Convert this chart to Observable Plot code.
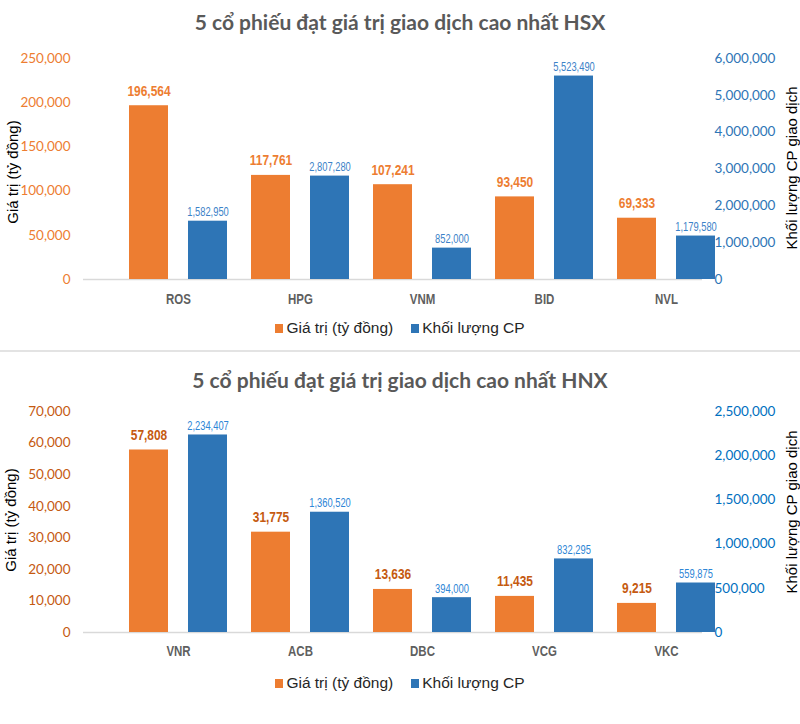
<!DOCTYPE html>
<html>
<head>
<meta charset="utf-8">
<script src="https://cdn.jsdelivr.net/npm/d3@7"></script>
<script src="https://cdn.jsdelivr.net/npm/@observablehq/plot@0.6"></script>
<style>
  body { margin: 0; background: #fff; }
  #root { position: relative; width: 800px; height: 724px; overflow: hidden; background: #fff; }
  .title { position: absolute; left: 0; width: 800px; text-align: center; font: bold 21px Lato, "Open Sans", sans-serif; color: #595959; line-height: 26px; }
  .layer { position: absolute; left: 0; }
  .ytitle { position: absolute; font: 15px "Liberation Sans", Arial, sans-serif; color: #000; white-space: nowrap; transform: translate(-50%, -50%) rotate(-90deg); }
  .legend { position: absolute; left: 0; width: 800px; display: flex; justify-content: center; align-items: center; gap: 18px; font: 15.5px "Liberation Sans", Arial, sans-serif; color: #262626; height: 18px; }
  .legend span.sw { display: inline-block; width: 8px; height: 9px; margin-right: 3px; }
  .legend .item { display: flex; align-items: center; }
  .sep { position: absolute; left: 0; top: 350px; width: 800px; height: 2px; background: #e3e3e3; }
</style>
</head>
<body>
<div id="root"></div>
<script>
// ---- Data ----
const hsxTitle = "5 cổ phiếu đạt giá trị giao dịch cao nhất HSX";
const hsxCats = ["ROS", "HPG", "VNM", "BID", "NVL"];
const hsxValue = [196564, 117761, 107241, 93450, 69333];
const hsxVolume = [1582950, 2807280, 852000, 5523490, 1179580];
const hsxLeftTicks = [0, 50000, 100000, 150000, 200000, 250000];
const hsxRightTicks = [0, 1000000, 2000000, 3000000, 4000000, 5000000, 6000000];

const hnxTitle = "5 cổ phiếu đạt giá trị giao dịch cao nhất HNX";
const hnxCats = ["VNR", "ACB", "DBC", "VCG", "VKC"];
const hnxValue = [57808, 31775, 13636, 11435, 9215];
const hnxVolume = [2234407, 1360520, 394000, 832295, 559875];
const hnxLeftTicks = [0, 10000, 20000, 30000, 40000, 50000, 60000, 70000];
const hnxRightTicks = [0, 500000, 1000000, 1500000, 2000000, 2500000];

const seriesNames = ["Giá trị (tỷ đồng)", "Khối lượng CP"];
const leftAxisTitle = "Giá trị (tỷ đồng)";
const rightAxisTitle = "Khối lượng CP giao dịch";

// ---- Styles ----
const ORANGE = "#ED7D31";
const BLUE = "#2E75B6";
const SANS = "'Liberation Sans', Arial, sans-serif";
const TICKFONT = "Lato, 'Open Sans', sans-serif";
const fmt = d3.format(",");
const root = document.getElementById("root");

function addDiv(cls, styles, html) {
  const d = document.createElement("div");
  d.className = cls;
  Object.assign(d.style, styles);
  if (html !== undefined) d.innerHTML = html;
  root.appendChild(d);
  return d;
}

// horizontally condense texts of marks (to imitate a narrow typeface)
function condense(svg, label, k) {
  svg.querySelectorAll(`g[aria-label="${label}"] text`).forEach(t => {
    let tr = t.getAttribute("transform");
    if (!tr) {
      const x = +(t.getAttribute("x") || 0), y = +(t.getAttribute("y") || 0);
      t.removeAttribute("x"); t.removeAttribute("y");
      tr = `translate(${x},${y})`;
    }
    t.setAttribute("transform", tr + ` scale(${k},1)`);
  });
}

function chart(cfg) {
  const rows = cfg.cats.map((c, i) => ({cat: c, value: cfg.value[i], volume: cfg.volume[i]}));
  const W = 800, H = cfg.height;
  const common = {
    width: W, height: H,
    marginLeft: 83, marginRight: 98, marginTop: cfg.marginTop, marginBottom: H - cfg.marginTop - cfg.plotH,
    style: {background: "transparent", overflow: "visible"}
  };
  const xScale = {domain: cfg.cats, range: [103, 740], padding: 0.2};

  const base = Plot.plot({
    ...common,
    x: {...xScale, axis: null},
    y: {domain: [0, cfg.leftTicks[cfg.leftTicks.length - 1]], axis: null},
    marks: [
      Plot.axisY({ticks: cfg.leftTicks, tickSize: 0, tickPadding: 13, tickFormat: fmt, label: null,
        fill: cfg.leftTickColor, fontSize: 13.5, fontFamily: TICKFONT}),
      Plot.axisX({tickSize: 0, tickPadding: cfg.xPad, label: null, fill: "#5f5f5f", fontSize: 14,
        fontWeight: "bold", fontFamily: SANS}),
      Plot.ruleY([0], {stroke: "#d9d9d9", strokeWidth: 1.5}),
      Plot.barY(rows, {x: "cat", y: "value", fill: ORANGE, insetRight: 59}),
      Plot.text(rows, {x: "cat", y: "value", text: d => fmt(d.value), dx: -29.5, dy: -15,
        fill: cfg.valueLabelColor, fontWeight: "bold", fontSize: 15.5, fontFamily: SANS})
    ]
  });
  condense(base, "text", 0.77);
  condense(base, "x-axis tick label", 0.82);

  const over = Plot.plot({
    ...common,
    x: {...xScale, axis: null},
    y: {domain: [0, cfg.rightTicks[cfg.rightTicks.length - 1]], axis: null},
    marks: [
      Plot.axisY({anchor: "right", ticks: cfg.rightTicks, tickSize: 0, tickPadding: 12, tickFormat: fmt, label: null,
        fill: cfg.rightTickColor, fontSize: 13.5, fontFamily: TICKFONT}),
      Plot.barY(rows, {x: "cat", y: "volume", fill: BLUE, insetLeft: 59}),
      Plot.text(rows, {x: "cat", y: "volume", text: d => fmt(d.volume), dx: 29.5, dy: -9,
        fill: cfg.volumeLabelColor, fontSize: 12, fontFamily: SANS})
    ]
  });
  condense(over, "text", 0.78);

  const l1 = addDiv("layer", {top: cfg.top + "px"});
  l1.appendChild(base);
  const l2 = addDiv("layer", {top: cfg.top + "px"});
  l2.appendChild(over);

  addDiv("title", {top: cfg.titleTop + "px"}, cfg.title);
  addDiv("ytitle", {left: cfg.leftTitle[0] + "px", top: cfg.leftTitle[1] + "px"}, leftAxisTitle);
  addDiv("ytitle", {left: cfg.rightTitle[0] + "px", top: cfg.rightTitle[1] + "px"}, rightAxisTitle);
  addDiv("legend", {top: cfg.legendTop + "px"},
    `<div class="item"><span class="sw" style="background:${ORANGE}"></span>${seriesNames[0]}</div>` +
    `<div class="item"><span class="sw" style="background:${BLUE}"></span>${seriesNames[1]}</div>`);
}

chart({
  title: hsxTitle, cats: hsxCats, value: hsxValue, volume: hsxVolume,
  leftTicks: hsxLeftTicks, rightTicks: hsxRightTicks,
  top: 40, height: 270, marginTop: 18, plotH: 221, xPad: 15,
  titleTop: 9, legendTop: 319,
  leftTitle: [12, 172], rightTitle: [791, 168],
  leftTickColor: ORANGE, rightTickColor: BLUE,
  valueLabelColor: ORANGE, volumeLabelColor: "#3C82C8"
});

addDiv("sep", {});

chart({
  title: hnxTitle, cats: hnxCats, value: hnxValue, volume: hnxVolume,
  leftTicks: hnxLeftTicks, rightTicks: hnxRightTicks,
  top: 395, height: 267, marginTop: 16, plotH: 221, xPad: 14,
  titleTop: 367, legendTop: 674,
  leftTitle: [10, 520], rightTitle: [791, 512],
  leftTickColor: "#C55A11", rightTickColor: "#0070C0",
  valueLabelColor: "#C55A11", volumeLabelColor: "#2E86D6"
});
</script>
</body>
</html>
